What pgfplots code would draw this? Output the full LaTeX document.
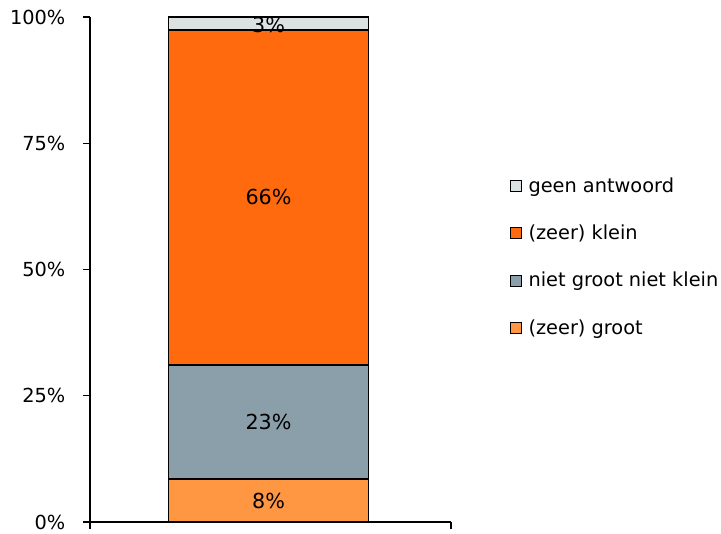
\documentclass[border=0pt]{standalone}
\usepackage{pgfplots}
\pgfplotsset{compat=1.18}
\usepackage{fontspec}
\setmainfont{DejaVu Sans}

\definecolor{cTop}{HTML}{DCE2E2}
\definecolor{cKlein}{HTML}{FF6A0E}
\definecolor{cMid}{HTML}{8A9FA9}
\definecolor{cGroot}{HTML}{FF9642}

\begin{document}
\begin{tikzpicture}
\begin{axis}[
    name=ax,
    width=270.75pt, height=378.75pt,
    scale only axis,
    ybar stacked,
    bar width=1,
    xmin=-0.89, xmax=0.91,
    ymin=0, ymax=100,
    axis x line=bottom, axis y line=left,
    axis line style={-, line width=1.2pt},
    xtick={-0.89,0.91}, xticklabels={,},
    ytick={0,25,50,75,100},
    yticklabels={0\%,25\%,50\%,75\%,100\%},
    tick align=outside,
    major tick length=5pt,
    tick style={black, line width=1.1pt},
    font=\fontsize{14.5}{17}\selectfont,
    yticklabel style={xshift=-10pt},
    legend style={draw=none, fill=none, at={(1.152,0.525)}, anchor=west,
        font=\fontsize{14.5}{17}\selectfont, row sep=19pt,
        legend cell align=left},
    legend image code/.code={\draw[#1, draw=black, line width=0.6pt] (0pt,-4pt) rectangle (8pt,4pt);
        \path (11pt,0pt);},
    reverse legend,
    clip=false,
    after end axis/.code={
        \node[font=\fontsize{15.5}{18}\selectfont] at (axis cs:0,4.25) {8\%};
        \node[font=\fontsize{15.5}{18}\selectfont] at (axis cs:0,19.8) {23\%};
        \node[font=\fontsize{15.5}{18}\selectfont] at (axis cs:0,64.3) {66\%};
        \node[font=\fontsize{15.5}{18}\selectfont] at (axis cs:0,98.4) {3\%};
    },
]
\addplot[fill=cGroot, draw=black, line width=1pt] coordinates {(0,8.5)};
\addlegendentry{(zeer) groot}
\addplot[fill=cMid, draw=black, line width=1pt] coordinates {(0,22.6)};
\addlegendentry{niet groot niet klein}
\addplot[fill=cKlein, draw=black, line width=1pt] coordinates {(0,66.3)};
\addlegendentry{(zeer) klein}
\addplot[fill=cTop, draw=black, line width=1pt] coordinates {(0,2.6)};
\addlegendentry{geen antwoord}
\end{axis}
\pgfresetboundingbox
\path[use as bounding box] (-67.5pt,-8.25pt) rectangle (473.25pt,391.5pt);
\end{tikzpicture}
\end{document}
